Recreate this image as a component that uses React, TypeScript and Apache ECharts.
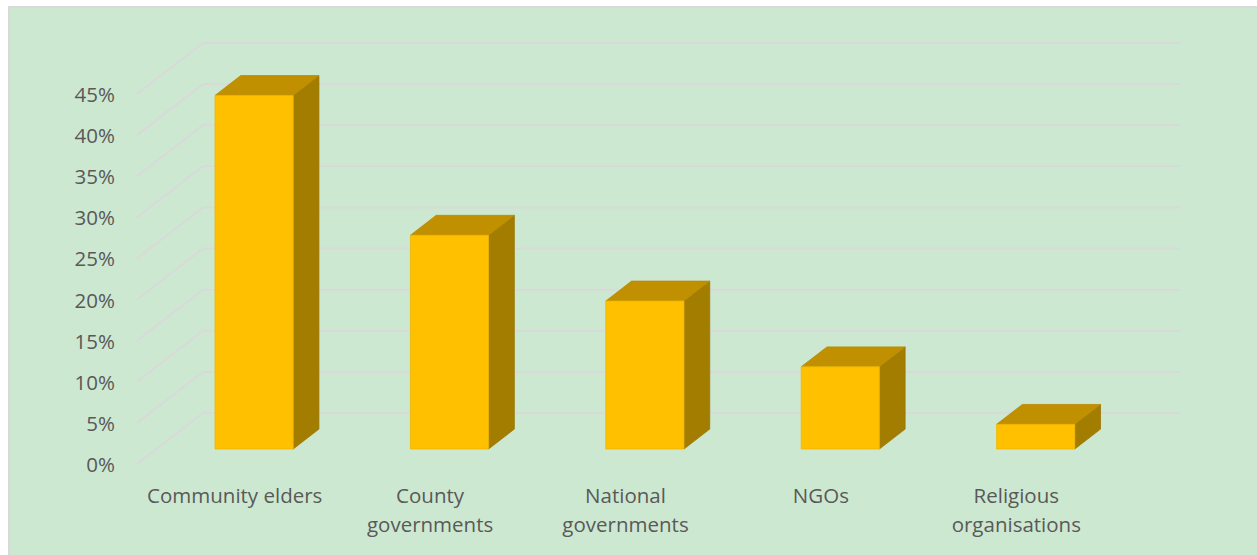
import React, { useEffect, useRef } from "react";
import * as echarts from "echarts";

const categories = [
  "Community elders",
  "County\ngovernments",
  "National\ngovernments",
  "NGOs",
  "Religious\norganisations",
];
const values = [43, 26, 18, 10, 3];
const yTicks = [0, 5, 10, 15, 20, 25, 30, 35, 40, 45];

const WALL_DX = 66;
const WALL_DY = -51;
const BAR_OFF = 0.294;
const BAR_DEPTH = 0.39;

export default function App() {
  const ref = useRef<HTMLDivElement>(null);
  useEffect(() => {
    if (!ref.current) return;
    const chart = echarts.init(ref.current, null, { renderer: "svg" });
    chart.setOption({
      animation: false,
      backgroundColor: "#ffffff",
      textStyle: { fontFamily: "Open Sans" },
      graphic: [
        {
          type: "rect",
          z: -10,
          silent: true,
          shape: { x: 9, y: 7, width: 1260, height: 560 },
          style: { fill: "#CDE8D1", stroke: "#D9D9D9", lineWidth: 2 },
        },
      ],
      grid: { left: 137, right: 143, top: 94, bottom: 91 },
      xAxis: {
        type: "category",
        data: categories,
        axisLine: { show: false },
        axisTick: { show: false },
        splitLine: { show: false },
        axisLabel: {
          color: "#595959",
          fontSize: 20.5,
          lineHeight: 29,
          margin: 16,
          interval: 0,
          fontFamily: "Open Sans",
        },
      },
      yAxis: {
        type: "value",
        min: 0,
        max: 45,
        interval: 5,
        axisLine: { show: false },
        axisTick: { show: false },
        splitLine: { show: false },
        axisLabel: {
          color: "#595959",
          fontSize: 20.5,
          margin: 22,
          formatter: (v: number) => v + "%",
          fontFamily: "Open Sans",
        },
      },
      series: [
        {
          type: "custom",
          z: 1,
          silent: true,
          data: yTicks.map((v) => [0, v]),
          renderItem: (params: any, api: any) => {
            const cs = params.coordSys;
            const p = api.coord([0, api.value(1)]);
            const y = p[1];
            return {
              type: "polyline",
              shape: {
                points: [
                  [cs.x, y],
                  [cs.x + WALL_DX, y + WALL_DY],
                  [cs.x + cs.width + WALL_DX, y + WALL_DY],
                ],
              },
              style: { stroke: "#D9D9D9", lineWidth: 2, fill: "none" },
            };
          },
        },
        {
          type: "custom",
          z: 2,
          data: values.map((v, i) => [i, v]),
          renderItem: (params: any, api: any) => {
            const i = api.value(0);
            const v = api.value(1);
            const p0 = api.coord([i, 0]);
            const p1 = api.coord([i, v]);
            const band = api.size([1, 0])[0];
            const w = band * 0.4;
            const ox = WALL_DX * BAR_OFF;
            const oy = WALL_DY * BAR_OFF;
            const dx = WALL_DX * BAR_DEPTH;
            const dy = WALL_DY * BAR_DEPTH;
            const L = p0[0] + ox - w / 2;
            const R = L + w;
            const B = p0[1] + oy;
            const T = p1[1] + oy;
            return {
              type: "group",
              children: [
                {
                  type: "polygon",
                  shape: {
                    points: [
                      [R, T],
                      [R + dx, T + dy],
                      [R + dx, B + dy],
                      [R, B],
                    ],
                  },
                  style: { fill: "#A37D00", stroke: "#9A7600", lineWidth: 0.8 },
                },
                {
                  type: "polygon",
                  shape: {
                    points: [
                      [L, T],
                      [R, T],
                      [R + dx, T + dy],
                      [L + dx, T + dy],
                    ],
                  },
                  style: { fill: "#C09000", stroke: "#B88A00", lineWidth: 0.8 },
                },
                {
                  type: "rect",
                  shape: { x: L, y: T, width: w, height: B - T },
                  style: { fill: "#FFC000", stroke: "#F0B400", lineWidth: 0.8 },
                },
              ],
            };
          },
        },
      ],
    });
    return () => chart.dispose();
  }, []);
  return (
    <div
      ref={ref}
      style={{ position: "absolute", left: 0, top: 0, width: 1257, height: 555 }}
    />
  );
}
